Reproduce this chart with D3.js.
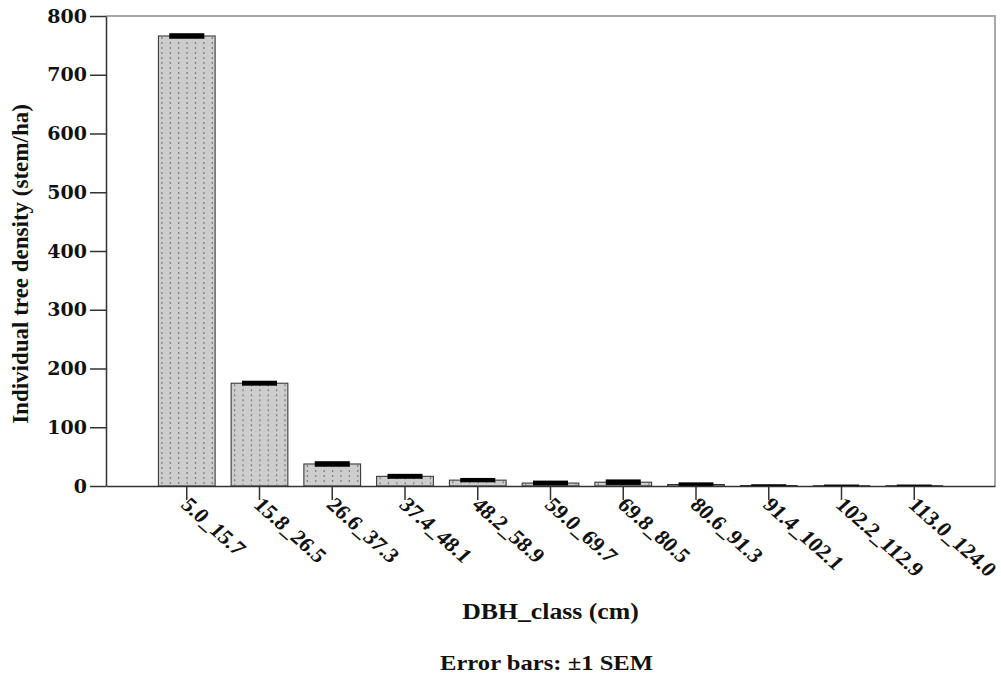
<!DOCTYPE html>
<html>
<head>
<meta charset="utf-8">
<script src="https://cdn.jsdelivr.net/npm/d3@7/dist/d3.min.js"></script>
<style>
  body { margin: 0; background: #fff; }
  svg { display: block; }
</style>
</head>
<body>
<div id="vis"></div>
<script>
// values
const classes = ["5.0_15.7", "15.8_26.5", "26.6_37.3", "37.4_48.1", "48.2_58.9", "59.0_69.7",
                 "69.8_80.5", "80.6_91.3", "91.4_102.1", "102.2_112.9", "113.0_124.0"];
const density = [766, 175, 37.5, 16.5, 10, 5, 6.5, 2.5, 0.8, 0.5, 0.5];
const sem = [3, 2.5, 3, 2.5, 2, 2.5, 3, 2, 0.5, 0.3, 0.3];
const yTicks = [0, 100, 200, 300, 400, 500, 600, 700, 800];

const W = 1001, H = 674;
const serif = "'Liberation Serif', 'Times New Roman', Tinos, Times, serif";
const stretch = 1.12; // the original is a bit wider than tall
let margin = {top: 16, right: 6, bottom: 188, left: 106},
    width = W - margin.left - margin.right,
    height = H - margin.top - margin.bottom;

let svg = d3.select("#vis").append("svg")
    .attr("width", W)
    .attr("height", H);

let g = svg.append("g")
    .attr("transform", "translate(" + margin.left + "," + margin.top + ")");

let x = d3.scaleBand()
    .domain(classes)
    .range([0, width])
    .paddingInner(0.22)
    .paddingOuter(0.72);

let y = d3.scaleLinear()
    .domain([0, 800])
    .range([height, 0]);

// frame (top + right, light gray)
g.append("path")
    .attr("d", "M0,0H" + width + "V" + height)
    .attr("fill", "none")
    .attr("stroke", "#a8a8a8")
    .attr("stroke-width", 2);

const data = classes.map((c, i) => ({c: c, v: density[i], e: sem[i]}));

////////// bars //////////
let bars = g.selectAll(".bar").data(data).enter().append("g").attr("class", "bar");

bars.append("rect")
    .attr("x", d => x(d.c))
    .attr("y", d => y(d.v))
    .attr("width", x.bandwidth())
    .attr("height", d => y(0) - y(d.v))
    .attr("fill", "#cdcdcd")
    .attr("stroke", "#2a2a2a")
    .attr("stroke-width", 1);

// dotted hatch inside each bar
bars.each(function (d) {
    let x0 = x(d.c), bw = x.bandwidth();
    let top = y(d.v) + 1, bot = y(0);
    if (bot - top < 1) return;
    let sel = d3.select(this);
    for (let px = x0 + 3.5; px < x0 + bw - 1; px += 8.4) {
        sel.append("line")
            .attr("x1", px).attr("x2", px)
            .attr("y1", top).attr("y2", bot)
            .attr("stroke", "#7a7a7a")
            .attr("stroke-width", 1.2)
            .attr("stroke-dasharray", "2,3");
    }
});

// error bars: +-1 SEM
const capW = 35;
bars.append("rect")
    .attr("x", d => x(d.c) + x.bandwidth() / 2 - capW / 2)
    .attr("y", d => y(d.v + d.e) - 1)
    .attr("width", capW)
    .attr("height", d => y(d.v - d.e) - y(d.v + d.e) + 2)
    .attr("fill", "#000");

////////// axes //////////
let yAxis = g.append("g")
    .call(d3.axisLeft(y).tickValues(yTicks).tickSize(16).tickSizeOuter(0).tickPadding(3));
yAxis.select(".domain").attr("stroke", "#333").attr("stroke-width", 1.5);
yAxis.selectAll(".tick line").attr("stroke", "#333").attr("stroke-width", 1.5);
yAxis.selectAll("text")
    .attr("font-family", "DejaVu Serif")
    .attr("font-weight", "bold")
    .attr("font-size", 19)
    .attr("fill", "#111");

let xAxis = g.append("g")
    .attr("transform", "translate(0," + height + ")")
    .call(d3.axisBottom(x).tickSize(14).tickSizeOuter(0));
xAxis.select(".domain").attr("stroke", "#333").attr("stroke-width", 1.5);
xAxis.selectAll(".tick line").attr("stroke", "#333").attr("stroke-width", 1.5);
xAxis.selectAll("text")
    .attr("font-family", serif)
    .attr("font-weight", "bold")
    .attr("font-size", 20.5)
    .attr("fill", "#111")
    .attr("text-anchor", "start")
    .attr("dy", null)
    .attr("y", null)
    .attr("transform", "translate(-7,20) scale(" + stretch + ",1) rotate(45)");

////////// titles //////////
svg.append("text")
    .attr("transform", "translate(28,264) rotate(-90)")
    .attr("text-anchor", "middle")
    .attr("font-family", serif)
    .attr("font-weight", "bold")
    .attr("font-size", 23)
    .attr("fill", "#111")
    .text("Individual tree density (stem/ha)");

svg.append("text")
    .attr("transform", "translate(" + (margin.left + width / 2) + ",619) scale(" + stretch + ",1)")
    .attr("text-anchor", "middle")
    .attr("font-family", serif)
    .attr("font-weight", "bold")
    .attr("font-size", 23)
    .attr("fill", "#111")
    .text("DBH_class (cm)");

svg.append("text")
    .attr("transform", "translate(" + (margin.left + width / 2 - 4) + ",670) scale(" + stretch + ",1)")
    .attr("text-anchor", "middle")
    .attr("font-family", serif)
    .attr("font-weight", "bold")
    .attr("font-size", 22)
    .attr("fill", "#111")
    .text("Error bars: \u00b11 SEM");
</script>
</body>
</html>
